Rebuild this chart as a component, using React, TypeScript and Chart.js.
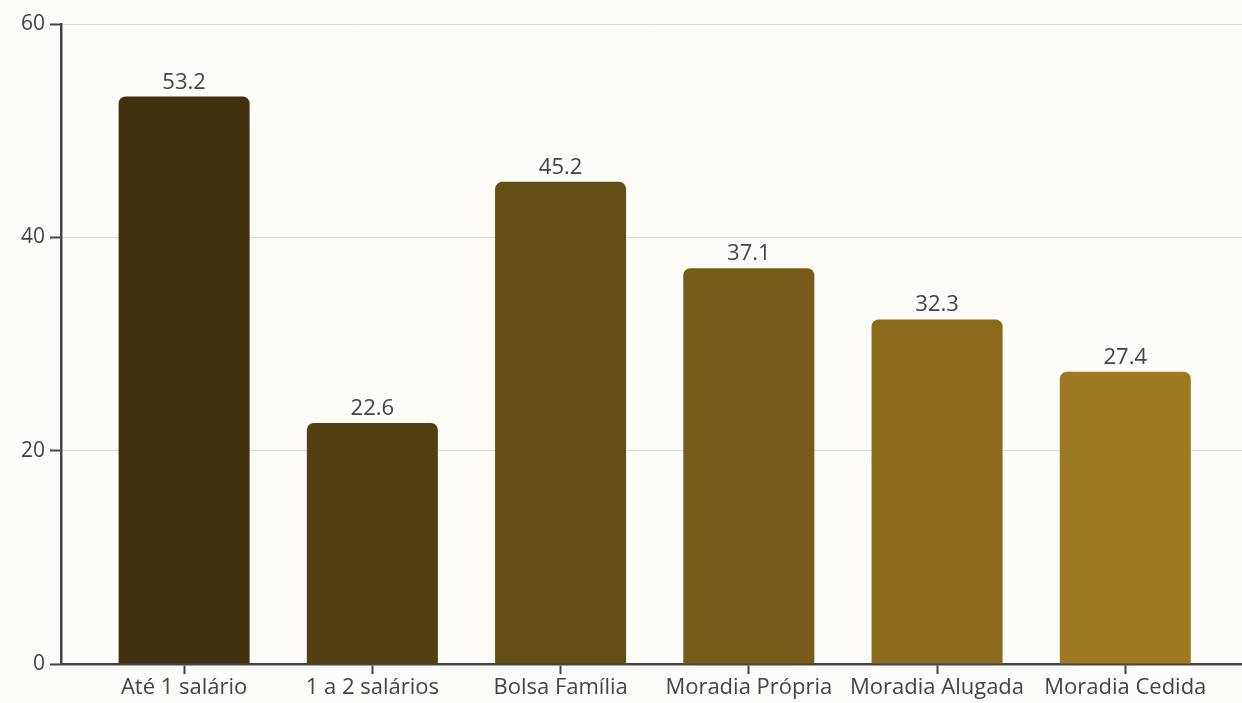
import React, { useEffect, useRef } from "react";
import { Chart, registerables } from "chart.js";

Chart.register(...registerables);

const categories = [
  "Até 1 salário",
  "1 a 2 salários",
  "Bolsa Família",
  "Moradia Própria",
  "Moradia Alugada",
  "Moradia Cedida",
];
const values = [53.2, 22.6, 45.2, 37.1, 32.3, 27.4];
const barColors = ["#40320f", "#523f12", "#654d16", "#775c19", "#8a6b1d", "#9d7a21"];
const yTicks = [0, 20, 40, 60];

const FONT = "'Open Sans', 'Noto Sans', sans-serif";
const TEXT = "#444444";
const BG = "#fdfcf9";

const valueLabels = {
  id: "valueLabels",
  afterDatasetsDraw(chart: any) {
    const ctx = chart.ctx;
    const meta = chart.getDatasetMeta(0);
    ctx.save();
    ctx.font = `22px ${FONT}`;
    ctx.fillStyle = TEXT;
    ctx.textAlign = "center";
    ctx.textBaseline = "alphabetic";
    meta.data.forEach((el: any, i: number) => {
      ctx.fillText(values[i].toFixed(1), el.x, el.y - 8);
    });
    ctx.restore();
  },
};

const bgPlugin = {
  id: "bg",
  beforeDraw(chart: any) {
    const ctx = chart.ctx;
    ctx.save();
    ctx.fillStyle = BG;
    ctx.fillRect(0, 0, chart.width, chart.height);
    ctx.restore();
  },
};

export default function App() {
  const ref = useRef<HTMLCanvasElement>(null);
  useEffect(() => {
    document.body.style.margin = "0";
    document.body.style.background = BG;
    const chart = new Chart(ref.current!, {
      type: "bar",
      data: {
        datasets: [
          {
            data: values.map((v, i) => ({ x: i, y: v })),
            backgroundColor: barColors,
            borderRadius: { topLeft: 7, topRight: 7, bottomLeft: 0, bottomRight: 0 },
            borderSkipped: false,
            categoryPercentage: 1,
            barPercentage: 0.696,
          },
        ],
      },
      options: {
        animation: false,
        responsive: false,
        maintainAspectRatio: false,
        layout: { padding: { top: 24, right: 0, left: 0, bottom: 0 } },
        plugins: { legend: { display: false }, tooltip: { enabled: false } },
        scales: {
          x: {
            type: "linear",
            offset: false,
            min: -0.654,
            max: 5.62,
            afterFit: (s: any) => {
              s.height = 39;
            },
            border: { display: true, color: "#444", width: 2.5 },
            grid: {
              offset: false,
              drawOnChartArea: false,
              drawTicks: true,
              tickColor: "#444",
              tickLength: 10,
              tickWidth: 2,
            },
            ticks: {
              stepSize: 1,
              includeBounds: false,
              autoSkip: false,
              maxRotation: 0,
              minRotation: 0,
              padding: 1,
              color: TEXT,
              font: { family: FONT, size: 22 },
              callback: (v: any) =>
                Number.isInteger(v) && v >= 0 && v < categories.length ? categories[v] : "",
            },
          },
          y: {
            min: 0,
            max: 60,
            afterFit: (s: any) => {
              s.width = 61;
            },
            afterBuildTicks: (s: any) => {
              s.ticks = yTicks.map((v) => ({ value: v }));
            },
            border: { display: true, color: "#444", width: 2.5 },
            grid: {
              color: "#dddddd",
              lineWidth: 1,
              drawTicks: true,
              tickColor: "#444",
              tickLength: 11,
              tickWidth: 2,
            },
            ticks: {
              padding: 5,
              color: TEXT,
              font: { family: FONT, size: 21 },
            },
          },
        },
      },
      plugins: [bgPlugin, valueLabels],
    });
    return () => chart.destroy();
  }, []);
  return (
    <div style={{ width: 1242, height: 703 }}>
      <canvas ref={ref} width={1242} height={703} style={{ display: "block" }} />
    </div>
  );
}
